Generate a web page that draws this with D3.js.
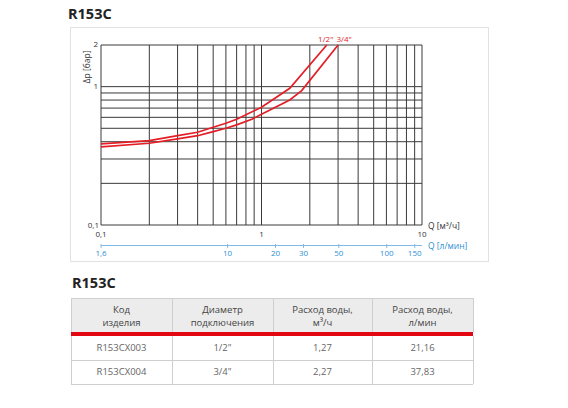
<!DOCTYPE html>
<html><head><meta charset="utf-8">
<script src="https://cdn.jsdelivr.net/npm/d3@7"></script>
<style>
html,body{margin:0;padding:0;background:#fff;}
svg{display:block;font-family:"Open Sans","Noto Sans",sans-serif;}
</style></head>
<body><svg id="c" width="568" height="408"></svg>
<script>
// ---- chart data ----
const flowHalf = [0.1, 0.2, 0.3, 0.4, 0.5, 0.6, 0.7, 1.0, 1.5, 2.55];
const dpHalf   = [0.386, 0.407, 0.442, 0.468, 0.509, 0.544, 0.581, 0.710, 0.973, 2.0];
const flowThreeQ = [0.1, 0.2, 0.3, 0.4, 0.5, 0.6, 0.7, 0.87, 1.0, 1.5, 1.78, 3.0];
const dpThreeQ   = [0.367, 0.390, 0.419, 0.442, 0.473, 0.500, 0.529, 0.581, 0.631, 0.801, 0.936, 2.0];
const seriesNames = ['1/2"', '3/4"'];
const xGrid = [0.1,0.2,0.3,0.4,0.5,0.6,0.7,0.8,0.9,1,2,3,4,5,6,7,8,9,10];
const yGrid = [0.1,0.2,0.3,0.4,0.5,0.6,0.7,0.8,0.9,1,2];
const xTickLabels = [0.1, 1, 10];
const yTickLabels = [2, 1];
const lpmTicks = [1.6, 10, 20, 30, 50, 100, 150];
// ---- table data ----
const tableTitle = "R153C";
const headers = [["Код","изделия"],["Диаметр","подключения"],["Расход воды,","м³/ч"],["Расход воды,","л/мин"]];
const codes = ["R153CX003","R153CX004"];
const diameters = ['1/2"','3/4"'];
const flowsM3h = ["1,27","2,27"];
const flowsLmin = ["21,16","37,83"];

const svg = d3.select("#c");
const fmt = v => String(v).replace(".", ",");
const red = "#e41e26", blue = "#2f8fd3", txt = "#333";

// title
svg.append("text").attr("x",68).attr("y",19).attr("font-size",14.5).attr("font-weight",700)
  .attr("fill","#222").text("R153C");

// panel
svg.append("rect").attr("x",70.5).attr("y",27.5).attr("width",418).attr("height",234)
  .attr("fill","none").attr("stroke","#e2e2e2");

const x = d3.scaleLog().domain([0.1,10]).range([101,422]);
const y = d3.scaleLog().domain([0.1,2]).range([225,45]);
const xl = d3.scaleLog().domain([1.6,166.7]).range([101,422]);

const g = svg.append("g");
g.selectAll("line.vx").data(xGrid).join("line")
  .attr("x1",d=>x(d)).attr("x2",d=>x(d)).attr("y1",y(0.1)).attr("y2",y(2))
  .attr("stroke","#3a3a3a").attr("stroke-width",1);
g.selectAll("line.hy").data(yGrid).join("line")
  .attr("y1",d=>y(d)).attr("y2",d=>y(d)).attr("x1",x(0.1)).attr("x2",x(10))
  .attr("stroke","#3a3a3a").attr("stroke-width",1);

// axis labels
svg.selectAll("text.yt").data(yTickLabels).join("text")
  .attr("x",98).attr("y",d=>y(d)+2).attr("text-anchor","end").attr("font-size",8).attr("fill",txt).text(fmt);
svg.append("text").attr("x",99).attr("y",y(0.1)+3).attr("text-anchor","end").attr("font-size",8).attr("fill",txt).text("0,1");
svg.selectAll("text.xt").data(xTickLabels).join("text")
  .attr("x",d=>x(d)).attr("y",237).attr("text-anchor","middle").attr("font-size",8).attr("fill",txt).text(fmt);
svg.append("text").attr("transform","translate(90,67) rotate(-90)").attr("text-anchor","middle")
  .attr("font-size",8.5).attr("fill",txt).text("Δp [бар]");
svg.append("text").attr("x",428).attr("y",229).attr("font-size",8.5).attr("fill",txt).text("Q [м³/ч]");

// blue l/min axis
svg.append("line").attr("x1",xl(1.6)).attr("x2",x(10)).attr("y1",245.5).attr("y2",245.5)
  .attr("stroke","#7fbbe6").attr("stroke-width",1);
svg.selectAll("line.bt").data(lpmTicks).join("line")
  .attr("x1",d=>xl(d)).attr("x2",d=>xl(d)).attr("y1",244).attr("y2",248)
  .attr("stroke","#7fbbe6").attr("stroke-width",1);
svg.selectAll("text.bt").data(lpmTicks).join("text")
  .attr("x",d=>xl(d)).attr("y",256).attr("text-anchor","middle").attr("font-size",8).attr("fill",blue).text(fmt);
svg.append("text").attr("x",428).attr("y",248.5).attr("font-size",8.5).attr("fill",blue).text("Q [л/мин]");

// curves
const line = d3.line().x(d=>x(d[0])).y(d=>y(d[1]));
const s1 = flowHalf.map((q,i)=>[q,dpHalf[i]]);
const s2 = flowThreeQ.map((q,i)=>[q,dpThreeQ[i]]);
[s1,s2].forEach(s=>{
  svg.append("path").attr("d",line(s)).attr("fill","none").attr("stroke",red).attr("stroke-width",1.7);
});
[s1,s2].forEach((s,i)=>{
  const last = s[s.length-1];
  svg.append("text").attr("x",x(last[0]) + (i===0 ? -1 : 6)).attr("y",42).attr("text-anchor","middle")
    .attr("font-size",8).attr("fill",red).text(seriesNames[i]);
});

// ---- table ----
svg.append("text").attr("x",72).attr("y",288).attr("font-size",14.5).attr("font-weight",700)
  .attr("fill","#222").text(tableTitle);
const colX = [71,172,273,372,473];
const tTop = 298, hdrBot = 332, redH = 4, r1 = 360, r2 = 384;
svg.append("rect").attr("x",colX[0]).attr("y",tTop).attr("width",colX[4]-colX[0]).attr("height",hdrBot-tTop)
  .attr("fill","#ececec");
svg.append("rect").attr("x",colX[0]).attr("y",hdrBot).attr("width",colX[4]-colX[0]).attr("height",redH)
  .attr("fill","#e30613");
// borders
const bc = "#cfcfcf";
svg.append("line").attr("x1",colX[0]).attr("x2",colX[4]).attr("y1",tTop+0.5).attr("y2",tTop+0.5).attr("stroke",bc);
[r1,r2].forEach(yy=>svg.append("line").attr("x1",colX[0]).attr("x2",colX[4]).attr("y1",yy+0.5).attr("y2",yy+0.5).attr("stroke",bc));
colX.forEach(cx=>{
  svg.append("line").attr("x1",cx+0.5).attr("x2",cx+0.5).attr("y1",tTop).attr("y2",hdrBot).attr("stroke",bc);
  svg.append("line").attr("x1",cx+0.5).attr("x2",cx+0.5).attr("y1",hdrBot+redH).attr("y2",r2).attr("stroke",bc);
});
const centers = colX.slice(0,4).map((c,i)=>(c+colX[i+1])/2);
headers.forEach((h,i)=>{
  svg.append("text").attr("x",centers[i]).attr("y",313).attr("text-anchor","middle").attr("font-size",9.5).attr("fill","#444").text(h[0]);
  svg.append("text").attr("x",centers[i]).attr("y",326).attr("text-anchor","middle").attr("font-size",9.5).attr("fill","#444").text(h[1]);
});
const rows = codes.map((c,i)=>[c,diameters[i],flowsM3h[i],flowsLmin[i]]);
const rowY = [351, 375];
rows.forEach((r,ri)=>{
  r.forEach((v,ci)=>{
    svg.append("text").attr("x",centers[ci]).attr("y",rowY[ri]).attr("text-anchor","middle")
      .attr("font-size",9.5).attr("fill","#666").text(v);
  });
});
</script></body></html>
